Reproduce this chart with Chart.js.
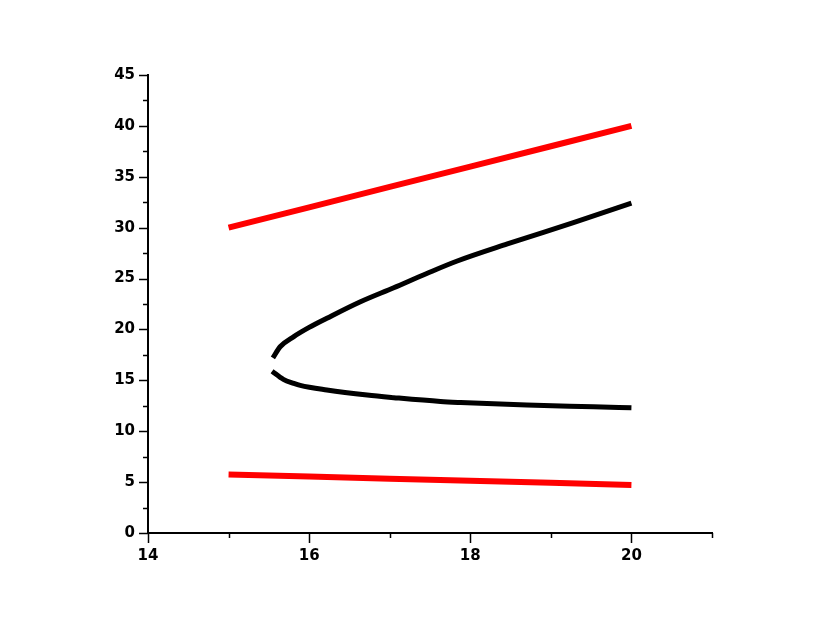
<!DOCTYPE html>
<html>
<head>
<meta charset="utf-8">
<script src="https://cdn.jsdelivr.net/npm/chart.js@4/dist/chart.umd.min.js"></script>
<style>
  html, body { margin: 0; padding: 0; background: #fff; }
  #wrap { width: 830px; height: 642px; }
</style>
</head>
<body>
<div id="wrap"><canvas id="c" width="830" height="642"></canvas></div>
<script>
// Black curve, upper branch
const upperX = [15.55, 15.64, 15.81, 16.0, 16.22, 16.63, 17.05, 17.46, 17.83, 18.46, 19.28, 20.0];
const upperY = [17.2, 18.3, 19.3, 20.2, 21.1, 22.7, 24.1, 25.5, 26.7, 28.4, 30.5, 32.4];
// Black curve, lower branch
const lowerX = [15.54, 15.68, 15.81, 15.89, 16.22, 16.72, 17.05, 17.63, 17.88, 18.7, 19.53, 20.0];
const lowerY = [15.9, 15.1, 14.7, 14.5, 14.05, 13.55, 13.3, 12.92, 12.82, 12.57, 12.4, 12.3];
// Red lines
const redX = [15, 16, 17, 18, 19, 20];
const redTopY = [30, 32, 34, 36, 38, 40];
const redBottomY = [5.75, 5.55, 5.34, 5.14, 4.93, 4.72];
// Axis ticks
const xMajorTicks = [14, 16, 18, 20];
const yMajorTicks = [0, 5, 10, 15, 20, 25, 30, 35, 40, 45];

const pts = (xs, ys) => xs.map((x, i) => ({ x: x, y: ys[i] }));

const tickPlugin = {
  id: 'ticks',
  afterDraw(chart) {
    const ctx = chart.ctx;
    const xs = chart.scales.x, ys = chart.scales.y;
    ctx.save();
    ctx.strokeStyle = '#000';
    ctx.lineWidth = 1.5;
    const bottom = chart.chartArea.bottom, left = chart.chartArea.left;
    for (let v = xs.min; v <= xs.max + 1e-9; v += 1) {
      const px = Math.round(xs.getPixelForValue(v)) + 0.5;
      const len = xMajorTicks.includes(v) ? 10 : 5;
      ctx.beginPath(); ctx.moveTo(px, bottom); ctx.lineTo(px, bottom + len); ctx.stroke();
    }
    for (let v = ys.min; v <= ys.max + 1e-9; v += 2.5) {
      const py = Math.round(ys.getPixelForValue(v)) + 0.5;
      const len = yMajorTicks.includes(v) ? 9 : 5;
      ctx.beginPath(); ctx.moveTo(left, py); ctx.lineTo(left - len, py); ctx.stroke();
    }
    ctx.restore();
  }
};

const font = { family: '"DejaVu Sans", sans-serif', size: 15, weight: 'bold' };

new Chart(document.getElementById('c'), {
  type: 'scatter',
  data: {
    datasets: [
      { data: pts(redX, redTopY), showLine: true, borderColor: '#ff0000', borderWidth: 6, pointRadius: 0, borderCapStyle: 'butt' },
      { data: pts(redX, redBottomY), showLine: true, borderColor: '#ff0000', borderWidth: 6, pointRadius: 0, borderCapStyle: 'butt' },
      { data: pts(upperX, upperY), showLine: true, borderColor: '#000000', borderWidth: 5, pointRadius: 0, borderCapStyle: 'butt', cubicInterpolationMode: 'monotone' },
      { data: pts(lowerX, lowerY), showLine: true, borderColor: '#000000', borderWidth: 5, pointRadius: 0, borderCapStyle: 'butt', cubicInterpolationMode: 'monotone' }
    ]
  },
  options: {
    responsive: false,
    animation: false,
    events: [],
    layout: { padding: { top: 75, right: 118, left: 0, bottom: 0 } },
    plugins: { legend: { display: false }, tooltip: { enabled: false } },
    scales: {
      x: {
        type: 'linear', min: 14, max: 21,
        border: { color: '#000', width: 2 },
        grid: { display: true, drawOnChartArea: false, drawTicks: true, tickLength: 10, tickColor: 'rgba(0,0,0,0)' },
        ticks: {
          stepSize: 1, autoSkip: false, maxRotation: 0, color: '#000', font: font, padding: 4,
          callback: (v) => xMajorTicks.includes(v) ? String(v) : ''
        },
        afterFit(scale) { scale.height = 109; }
      },
      y: {
        type: 'linear', min: 0, max: 45,
        border: { color: '#000', width: 2 },
        grid: { display: true, drawOnChartArea: false, drawTicks: true, tickLength: 9, tickColor: 'rgba(0,0,0,0)' },
        ticks: {
          stepSize: 2.5, autoSkip: false, color: '#000', font: font, padding: 4,
          callback: (v) => yMajorTicks.includes(v) ? String(v) : ''
        },
        afterFit(scale) { scale.width = 148; }
      }
    }
  },
  plugins: [tickPlugin]
});
</script>
</body>
</html>
